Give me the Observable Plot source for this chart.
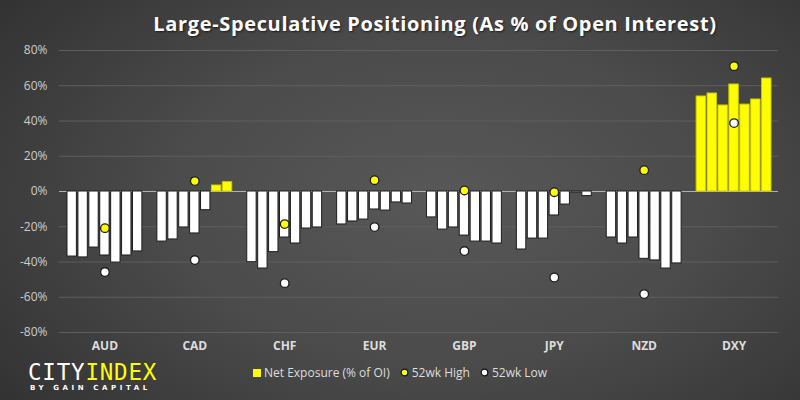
<!DOCTYPE html>
<html>
<head>
<meta charset="utf-8">
<script src="https://cdn.jsdelivr.net/npm/d3@7"></script>
<script src="https://cdn.jsdelivr.net/npm/@observablehq/plot@0.6"></script>
<style>
  html, body { margin: 0; padding: 0; }
  #wrap {
    position: relative; width: 800px; height: 400px; overflow: hidden;
    background: radial-gradient(ellipse 75% 90% at 55% 50%, #585858 0%, #4b4b4b 45%, #2e2e2e 100%);
    font-family: "Open Sans", sans-serif;
  }
  #title {
    position: absolute; top: 10px; left: 435px; transform: translateX(-50%);
    white-space: nowrap; color: #fff; font-weight: bold; font-size: 20px; letter-spacing: 0.65px;
    text-shadow: 1px 1px 2px rgba(0,0,0,0.6);
  }
  .layer { position: absolute; left: 0; top: 40px; }
  .front text { font-weight: bold; fill: #dddddd; }
  #legend {
    position: absolute; top: 364px; left: 253px; white-space: nowrap;
    color: #dddddd; font-size: 12px; display: flex; align-items: center;
  }
  #legend .sq { width: 8px; height: 8px; background: #ffff00; display: inline-block; margin-right: 3px; }
  #legend .it { display: flex; align-items: center; margin-right: 10px; }
  #legend svg { margin-right: 3px; }
  #logo { position: absolute; left: 28px; top: 360px; }
  #logo .big { font-family: "DejaVu Sans Mono", monospace; font-weight: normal; font-size: 22.5px; letter-spacing: 0.8px; line-height: 24px; }
  #logo .small { font-family: "DejaVu Sans", sans-serif; font-weight: bold; font-size: 7px; letter-spacing: 3.6px; color: #fff; margin-left: 2px; }
</style>
</head>
<body>
<div id="wrap">
  <div id="title">Large-Speculative Positioning (As % of Open Interest)</div>
  <div id="logo">
    <div class="big"><span style="color:#fff">CITY</span><span style="color:#ffff00">INDEX</span></div>
    <div class="small">BY GAIN CAPITAL</div>
  </div>
  <div id="legend"></div>
</div>
<script>
const currencies = ["AUD","CAD","CHF","EUR","GBP","JPY","NZD","DXY"];
const weeks = [0,1,2,3,4,5,6];
const AUD = [-36.9, -37.4, -31.8, -36.3, -40.3, -36.3, -34.0];
const CAD = [-28.4, -27.2, -20.4, -23.8, -10.6, 3.4, 5.3];
const CHF = [-40.1, -43.7, -34.4, -26.1, -29.5, -21.0, -20.4];
const EUR = [-18.7, -17.0, -15.9, -10.2, -10.8, -6.2, -6.8];
const GBP = [-14.7, -21.6, -20.4, -25.0, -28.4, -28.4, -29.5];
const JPY = [-32.9, -26.7, -26.7, -13.6, -7.4, -0.7, -2.6];
const NZD = [-26.1, -29.5, -26.1, -38.2, -39.1, -43.7, -40.8];
const DXY = [53.9, 55.6, 48.8, 60.7, 49.3, 52.2, 64.1];
const high52 = [-20.8, 5.9, -18.5, 6.4, 0.6, -0.4, 12.1, 71.1];
const low52 = [-45.7, -38.9, -52.0, -20.2, -33.8, -48.8, -58.2, 38.8];
const yTicks = [-80, -60, -40, -20, 0, 20, 40, 60, 80];

const series = {AUD, CAD, CHF, EUR, GBP, JPY, NZD, DXY};
const rows = currencies.flatMap(c => series[c].map((v, i) => ({cur: c, i: weeks[i], v})));
const marks52 = currencies.flatMap((c, k) => [
  {cur: c, v: high52[k], kind: "high"},
  {cur: c, v: low52[k], kind: "low"}
]);

const YELLOW = "#ffff00";
const common = {
  width: 800, height: 320, marginTop: 10, marginBottom: 28,
  marginLeft: 59, marginRight: 22,
  style: {background: "transparent", color: "#cccccc", fontSize: "12px", fontFamily: "Open Sans"}
};

// back layer: y axis and full-width grid
const back = Plot.plot({
  ...common,
  y: {domain: [-80, 80], ticks: yTicks, tickFormat: d => d + "%", tickSize: 0, tickPadding: 12, label: null},
  marks: [
    Plot.ruleY(yTicks.filter(d => d !== 0), {stroke: "#5f5f5f", strokeWidth: 1}),
    Plot.ruleY([0], {stroke: "#b0b0b0", strokeWidth: 1})
  ]
});
back.classList.add("layer");

// front layer: faceted bars and 52-week markers
const front = Plot.plot({
  ...common,
  fx: {domain: currencies, range: [67, 771], round: false, paddingInner: 0.167, paddingOuter: 0, label: null, tickSize: 0, tickPadding: 9, axis: "bottom"},
  x: {domain: weeks, axis: null, round: false, paddingInner: 0.14, paddingOuter: 0},
  y: {domain: [-80, 80], axis: null},
  color: {type: "identity"},
  marks: [
    Plot.barY(rows, {
      fx: "cur", x: "i", y: "v",
      fill: d => d.v > 0 ? YELLOW : "#ffffff",
      stroke: d => d.v > 0 ? "#cdcd00" : "#1e1e1e",
      strokeWidth: 1
    }),
    Plot.dot(marks52, {
      fx: "cur", x: () => weeks[3], y: "v", r: 4.3,
      fill: d => d.kind === "high" ? YELLOW : "#ffffff",
      stroke: "#1e1e1e", strokeWidth: 1.3
    })
  ]
});
front.classList.add("layer", "front");

const wrap = document.getElementById("wrap");
wrap.appendChild(back);
wrap.appendChild(front);

// legend
const legendItems = [
  {label: "Net Exposure (% of OI)", type: "sq"},
  {label: "52wk High", type: "dot", fill: YELLOW},
  {label: "52wk Low", type: "dot", fill: "#ffffff"}
];
const lg = d3.select("#legend");
legendItems.forEach(it => {
  const s = lg.append("span").attr("class", "it");
  if (it.type === "sq") s.append("span").attr("class", "sq");
  else {
    const sv = s.append("svg").attr("width", 9).attr("height", 9);
    sv.append("circle").attr("cx", 4.5).attr("cy", 4.5).attr("r", 3.3)
      .attr("fill", it.fill).attr("stroke", "#111").attr("stroke-width", 1.2);
  }
  s.append("span").text(it.label);
});
</script>
</body>
</html>
